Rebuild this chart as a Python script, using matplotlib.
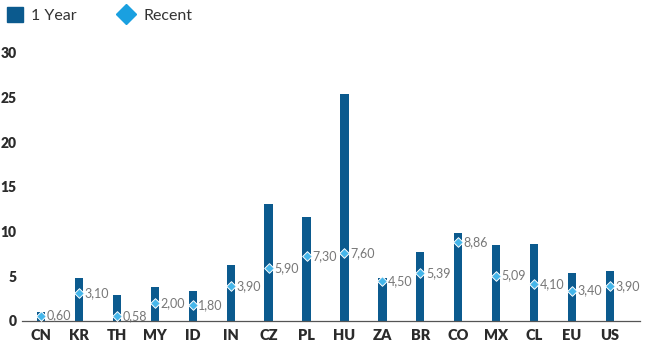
import matplotlib
matplotlib.use("Agg")
import matplotlib.pyplot as plt
from matplotlib.lines import Line2D
from matplotlib.patches import Patch

countries = ["CN", "KR", "TH", "MY", "ID", "IN", "CZ", "PL", "HU", "ZA", "BR", "CO", "MX", "CL", "EU", "US"]
one_year = [1.0, 4.8, 2.9, 3.8, 3.4, 6.3, 13.1, 11.6, 25.4, 4.8, 7.7, 9.85, 8.5, 8.6, 5.4, 5.6]
recent = [0.60, 3.10, 0.58, 2.00, 1.80, 3.90, 5.90, 7.30, 7.60, 4.50, 5.39, 8.86, 5.09, 4.10, 3.40, 3.90]
yticks = [0, 5, 10, 15, 20, 25, 30]

bar_color = "#0b5a8e"
dot_color = "#45b6ea"
legend_dot = "#1aa0e0"

plt.rcParams['font.family'] = ['Lato', 'DejaVu Sans']

fig = plt.figure(figsize=(6.5, 3.48), dpi=100)
ax = fig.add_axes([0.034, 0.0776, 0.951, 0.7704])

x = list(range(len(countries)))
ax.bar(x, one_year, width=0.22, color=bar_color, zorder=2)
ax.scatter(x, recent, marker="D", s=24, color=dot_color, edgecolor="white", linewidth=0.7, zorder=3)
for xi, v in zip(x, recent):
    ax.annotate(f"{v:.2f}".replace(".", ","), (xi, v), xytext=(4, 0), textcoords="offset points",
                ha="left", va="center", fontsize=9, color="#777777")

ax.set_xlim(-0.5, 15.8)
ax.set_ylim(0, 30)
ax.set_yticks(yticks)
ax.set_xticks(x)
ax.set_xticklabels(countries)
for s in ["top", "right", "left"]:
    ax.spines[s].set_visible(False)
ax.spines["bottom"].set_color("#555555")
ax.spines["bottom"].set_linewidth(0.9)
ax.tick_params(axis="y", length=0, labelsize=10, labelcolor="#2b2b2b", pad=4)
ax.tick_params(axis="x", length=0, labelsize=10.5, labelcolor="#2b2b2b", pad=6)
for lbl in ax.get_xticklabels() + ax.get_yticklabels():
    lbl.set_fontweight("heavy")

handles = [Patch(facecolor=bar_color, edgecolor=bar_color),
           Line2D([], [], marker="D", color="none", markerfacecolor=legend_dot, markeredgecolor=legend_dot, markersize=10)]
fig.legend(handles, ["1 Year", "Recent"], loc="upper left", bbox_to_anchor=(-0.012, 1.02), ncol=2,
           frameon=False, fontsize=11.5, handlelength=1.0, handleheight=1.0, columnspacing=2.6, handletextpad=0.55,
           labelcolor="#333333")

fig.savefig("out.png", dpi=100)
